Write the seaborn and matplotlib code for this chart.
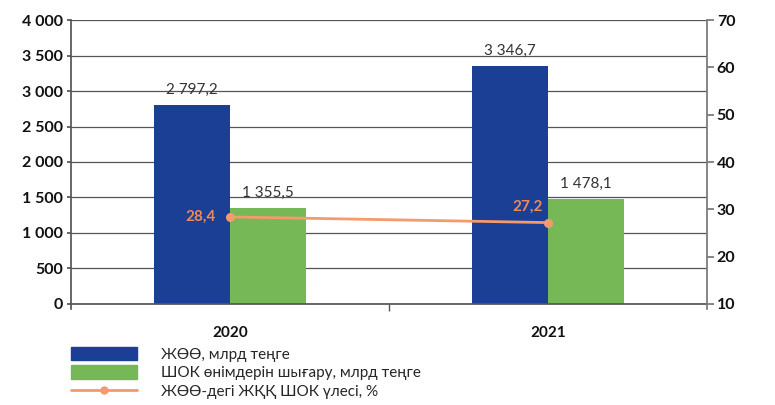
import pandas as pd
import seaborn as sns
import matplotlib.pyplot as plt
from matplotlib.patches import Patch
from matplotlib.lines import Line2D
from matplotlib.ticker import FixedLocator

# данные
years = ["2020", "2021"]
gdp = [2797.2, 3346.7]          # ЖӨӨ, млрд теңге
sme_output = [1355.5, 1478.1]   # ШОК өнімдерін шығару, млрд теңге
sme_share = [28.4, 27.2]        # ЖӨӨ-дегі ЖҚҚ ШОК үлесі, %
left_ticks = [0, 500, 1000, 1500, 2000, 2500, 3000, 3500, 4000]
right_ticks = [10, 20, 30, 40, 50, 60, 70]
series_names = ["ЖӨӨ, млрд теңге", "ШОК өнімдерін шығару, млрд теңге"]
line_name = "ЖӨӨ-дегі ЖҚҚ ШОК үлесі, %"

blue = "#1a3f94"
green = "#76b856"
orange = "#f49a6c"
orange_txt = "#f0895a"

sns.set_theme(style="white")
plt.rcParams["font.family"] = ["Lato", "DejaVu Sans"]

df = pd.DataFrame({
    "year": years * 2,
    "value": gdp + sme_output,
    "series": [series_names[0]] * 2 + [series_names[1]] * 2,
})

fig = plt.figure(figsize=(7.75, 4.05), dpi=100)
ax = fig.add_axes([0.0916, 0.2494, 0.8207, 0.7012])

sns.barplot(data=df, x="year", y="value", hue="series", palette=[blue, green],
            width=0.475, gap=0, saturation=1, linewidth=0, ax=ax, legend=False)

ax.set_ylim(0, 4000)
ax.set_xlim(-0.5, 1.5)
ax.set_yticks(left_ticks, [f"{v:,}".replace(",", " ") for v in left_ticks],
              fontweight="bold", color="#111111")
ax.set_xticks([0, 1], years, fontweight="bold", color="#111111")
ax.grid(axis="y", color="#555555", lw=0.9)
ax.set_axisbelow(True)
ax.set_xlabel("")
ax.set_ylabel("")
for s in ["top", "right"]:
    ax.spines[s].set_visible(False)
ax.spines["left"].set_color("#555555")
ax.spines["bottom"].set_color("#555555")
ax.spines["left"].set_bounds(-70, 4000)
ax.tick_params(axis="y", left=True, length=3, color="#555555", labelsize=11.5, pad=3)
ax.tick_params(axis="x", bottom=False, labelsize=11, pad=10)
ax.xaxis.set_minor_locator(FixedLocator([0.5]))
ax.tick_params(axis="x", which="minor", bottom=True, length=5, color="#555555")

# подписи над столбцами
for cont in ax.containers:
    ax.bar_label(cont, labels=[f"{v:,.1f}".replace(",", " ").replace(".", ",") for v in cont.datavalues],
                 padding=6, fontsize=11, color="#333333")

# правая ось
ax2 = ax.twinx()
sns.pointplot(x=years, y=sme_share, color=orange, markers="o", markersize=5,
              linewidth=2, ax=ax2)
ax2.set_ylim(10, 70)
ax2.set_xlim(-0.5, 1.5)
ax2.set_yticks(right_ticks, [str(v) for v in right_ticks], fontweight="bold", color="#111111")
ax2.spines["right"].set_color("#777777")
ax2.spines["right"].set_bounds(9, 70)
for s in ["top", "left", "bottom"]:
    ax2.spines[s].set_visible(False)
ax2.tick_params(axis="y", right=True, length=5, color="#777777", labelsize=11.5, pad=2)

ax2.annotate(f"{sme_share[0]:.1f}".replace(".", ","), (0, sme_share[0]), xytext=(-10, 0),
             textcoords="offset points", ha="right", va="center",
             fontsize=11, fontweight="bold", color=orange_txt)
ax2.annotate(f"{sme_share[1]:.1f}".replace(".", ","), (1, sme_share[1]), xytext=(-4, 6),
             textcoords="offset points", ha="right", va="bottom",
             fontsize=11, fontweight="bold", color=orange_txt)

handles = [Patch(color=blue), Patch(color=green),
           Line2D([0], [0], color=orange, lw=2, marker="o", markersize=5)]
fig.legend(handles, series_names + [line_name], loc="lower left",
           bbox_to_anchor=(0.074, -0.02), frameon=False, fontsize=11,
           handlelength=4.3, handleheight=1.0, handletextpad=1.6,
           labelspacing=0.25, numpoints=1)

fig.savefig("out.png", dpi=100)
